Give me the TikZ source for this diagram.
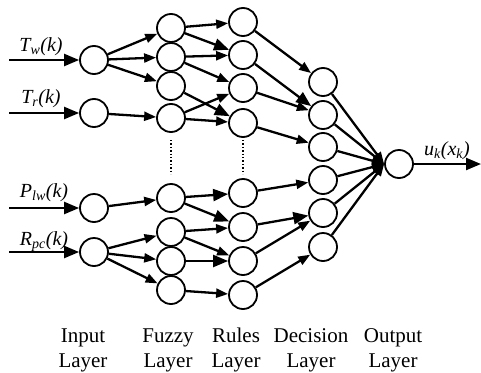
\documentclass[tikz,border=0pt]{standalone}
\usepackage{fontspec}
\setmainfont{Liberation Serif}
\usetikzlibrary{arrows.meta}
\begin{document}
\begin{tikzpicture}[x=1pt,y=-1pt,
  neuron/.style={circle,draw,line width=1.8pt,minimum size=28pt,inner sep=0pt,fill=white},
  link/.style={line width=2.3pt,-{Triangle[length=12pt,width=9pt]}},
  biglink/.style={line width=2.3pt,-{Triangle[length=15pt,width=12pt]}},
  inlabel/.style={font=\fontsize{20}{24}\selectfont\itshape,anchor=base},
  layer/.style={font=\fontsize{21}{25}\selectfont,anchor=base},
  gap/.style={line width=1.4pt,dotted}]
\useasboundingbox (0,0) rectangle (481,372);

% input layer
\node[neuron] (i1) at (94,60) {};
\node[neuron] (i2) at (94,113) {};
\node[neuron] (i3) at (94,208) {};
\node[neuron] (i4) at (94,252) {};

% fuzzy layer
\foreach \n/\y in {1/28,2/57,3/86,4/118,5/198,6/232,7/261,8/290}
  \node[neuron] (f\n) at (171,\y) {};

% rules layer
\foreach \n/\y in {1/22,2/55,3/88,4/123,5/193,6/227,7/261,8/295}
  \node[neuron] (r\n) at (243,\y) {};

% decision layer
\foreach \n/\y in {1/82,2/115,3/147,4/180,5/213,6/247}
  \node[neuron] (d\n) at (323,\y) {};

% output layer
\node[neuron] (o) at (399,164) {};

% omitted neurons
\coordinate (fg1) at (171,140);
\coordinate (fg2) at (171,174);
\coordinate (rg1) at (243,140);
\coordinate (rg2) at (243,174);
\draw[gap] (fg1) -- (fg2);
\draw[gap] (rg1) -- (rg2);

% external inputs
\coordinate (s1) at (9,60);
\coordinate (s2) at (9,113);
\coordinate (s3) at (9,208);
\coordinate (s4) at (9,252);
\draw[biglink] (s1) -- (i1);
\draw[biglink] (s2) -- (i2);
\draw[biglink] (s3) -- (i3);
\draw[biglink] (s4) -- (i4);
\node[inlabel] (l1) at (41,51) {T\textsubscript{w}(k)};
\node[inlabel] (l2) at (41,103) {T\textsubscript{r}(k)};
\node[inlabel] (l3) at (44,197) {P\textsubscript{lw}(k)};
\node[inlabel] (l4) at (44,245) {R\textsubscript{pc}(k)};

% input -> fuzzy
\draw[link] (i1) -- (f1);
\draw[link] (i1) -- (f2);
\draw[link] (i1) -- (f3);
\draw[link] (i2) -- (f4);
\draw[link] (i3) -- (f5);
\draw[link] (i4) -- (f6);
\draw[link] (i4) -- (f7);
\draw[link] (i4) -- (f8);

% fuzzy -> rules
\draw[link] (f1) -- (r1);
\draw[biglink] (f1) -- (r2);
\draw[link] (f2) -- (r2);
\draw[link] (f2) -- (r3);
\draw[biglink] (f3) -- (r4);
\draw[link] (f4) -- (r3);
\draw[link] (f4) -- (r4);
\draw[biglink] (f5) -- (r5);
\draw[biglink] (f5) -- (r6);
\draw[link] (f6) -- (r6);
\draw[link] (f6) -- (r7);
\draw[biglink] (f7) -- (r7);
\draw[link] (f8) -- (r8);

% rules -> decision
\draw[link] (r1) -- (d1);
\draw[biglink] (r2) -- (d2);
\draw[link] (r3) -- (d2);
\draw[link] (r4) -- (d3);
\draw[link] (r5) -- (d4);
\draw[biglink] (r6) -- (d5);
\draw[link] (r7) -- (d5);
\draw[link] (r8) -- (d6);

% decision -> output, all converging on the output's left side
\foreach \n in {1,...,6}
  \draw[link] (d\n) -- (o.west);

% output
\coordinate (out) at (481,164);
\draw[biglink] (o) -- (out);
\node[inlabel] (lo) at (447,155) {u\textsubscript{k}(x\textsubscript{k})};

% layer captions
\node[layer] (c1a) at (83,342) {Input};
\node[layer] (c1b) at (83,367) {Layer};
\node[layer] (c2a) at (168,342) {Fuzzy};
\node[layer] (c2b) at (168,367) {Layer};
\node[layer] (c3a) at (236,342) {Rules};
\node[layer] (c3b) at (236,367) {Layer};
\node[layer] (c4a) at (311,342) {Decision};
\node[layer] (c4b) at (311,367) {Layer};
\node[layer] (c5a) at (393,342) {Output};
\node[layer] (c5b) at (393,367) {Layer};
\end{tikzpicture}
\end{document}
